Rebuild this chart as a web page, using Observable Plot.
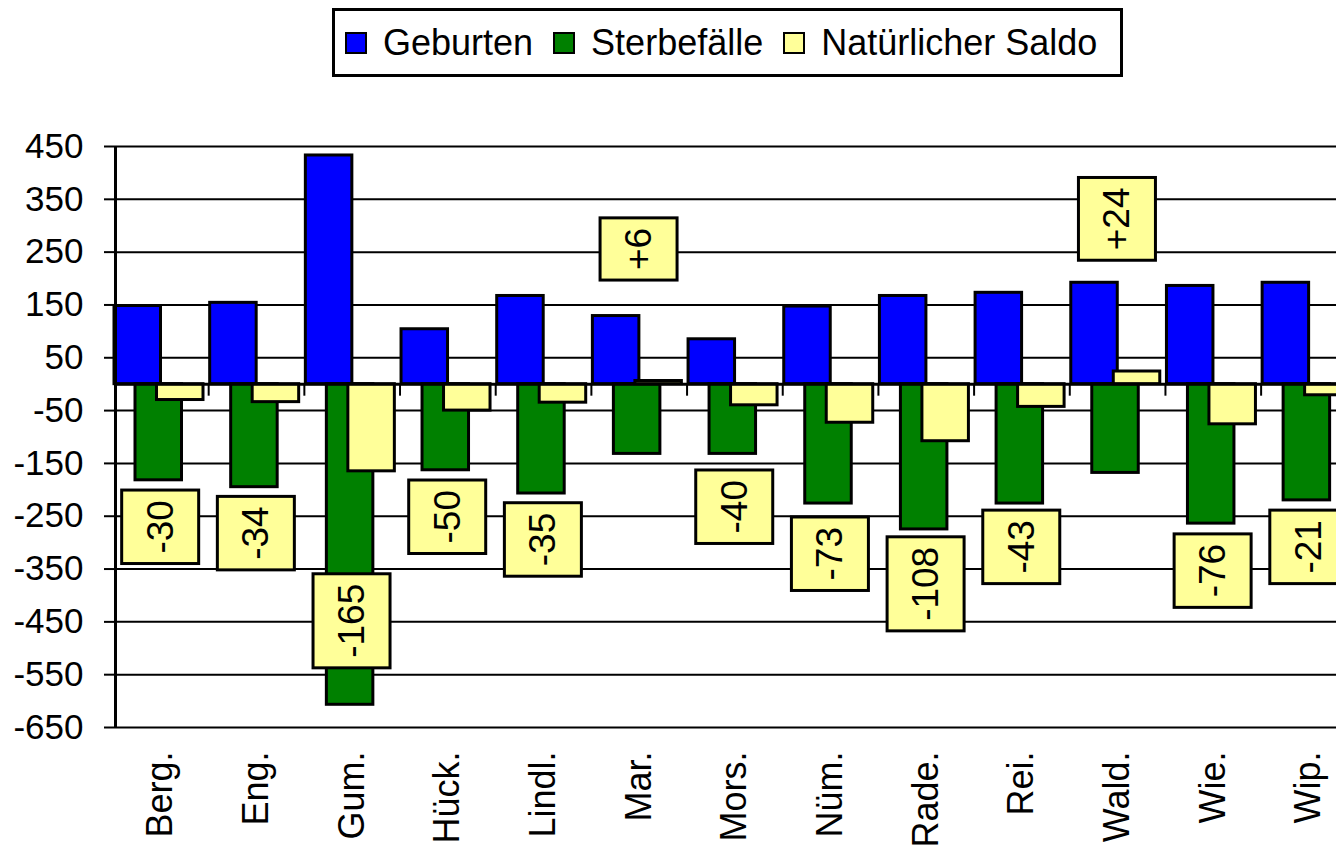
<!DOCTYPE html>
<html>
<head>
<meta charset="utf-8">
<script src="https://cdn.jsdelivr.net/npm/d3@7"></script>
<script src="https://cdn.jsdelivr.net/npm/@observablehq/plot@0.6"></script>
<style>
  html, body { margin: 0; padding: 0; background: #fff; }
  body { font-family: "Liberation Sans", Arial, sans-serif; color: #000; width: 1336px; height: 848px; overflow: hidden; }
  #top { height: 85px; position: relative; }
  #legend {
    position: absolute; left: 332px; top: 8px; box-sizing: border-box;
    width: 791px; height: 69px; border: 3px solid #000;
    display: flex; align-items: center; padding-left: 10px;
    font-size: 36px; line-height: 1;
  }
  .sw { width: 22px; height: 22px; box-sizing: border-box; border: 2px solid #000; margin-right: 16px; flex: none; }
  .lt { margin-right: 20px; white-space: nowrap; }
</style>
</head>
<body>
<div id="top"><div id="legend"></div></div>
<div id="chart"></div>
<script>
// ---- data ----
const categories = ["Berg.", "Eng.", "Gum.", "Hück.", "Lindl.", "Mar.", "Mors.", "Nüm.", "Rade.", "Rei.", "Wald.", "Wie.", "Wip."];
const geburten    = [148, 154, 433, 104, 167, 129, 85, 147, 167, 173, 192, 186, 192];
const sterbefaelle = [-182, -195, -607, -163, -207, -132, -132, -226, -275, -226, -168, -264, -220];
const saldo       = [-30, -34, -165, -50, -35, 6, -40, -73, -108, -43, 24, -76, -21];
// value at which each saldo label box sits (as placed in the original)
const labelAt     = [-270, -282, -448, -251, -294, 256, -232, -321, -378, -308, 313, -353, -308];
const yTicks = [-650, -550, -450, -350, -250, -150, -50, 50, 150, 250, 350, 450];
const seriesNames = ["Geburten", "Sterbefälle", "Natürlicher Saldo"];
const seriesColors = ["#0000FF", "#008000", "#FFFF99"];

// ---- legend (HTML, above the svg) ----
const legend = document.getElementById("legend");
seriesNames.forEach((name, i) => {
  const sw = document.createElement("span");
  sw.className = "sw";
  sw.style.background = seriesColors[i];
  const lt = document.createElement("span");
  lt.className = "lt";
  lt.textContent = name;
  legend.appendChild(sw);
  legend.appendChild(lt);
});

// ---- chart ----
const X0 = 112.5, X1 = 1356.3;            // band range (chart is cut at the right edge)
const bw = (X1 - X0) / categories.length; // band width in px
const rows = (vals) => categories.map((c, i) => ({cat: c, v: vals[i]}));
const labels = categories.map((c, i) => ({cat: c, at: labelAt[i], text: (saldo[i] > 0 ? "+" : "") + saldo[i]}));
const FONT = '"Liberation Sans", Arial, sans-serif';

const svg = Plot.plot({
  width: 1336,
  height: 763,
  marginTop: 61,
  marginBottom: 121,
  marginLeft: 115,
  marginRight: 0,
  style: {fontFamily: FONT, background: "#fff", color: "#000"},
  x: {type: "band", domain: categories, range: [X0, X1], padding: 0, round: false, label: null},
  y: {domain: [-650, 450], label: null},
  marks: [
    Plot.gridY(yTicks, {stroke: "#000", strokeOpacity: 1, strokeWidth: 2}),
    Plot.barY(rows(geburten), {x: "cat", y: "v", fill: seriesColors[0], stroke: "#000", strokeWidth: 3,
      insetLeft: 1.5, insetRight: bw - 48}),
    Plot.barY(rows(sterbefaelle), {x: "cat", y: "v", fill: seriesColors[1], stroke: "#000", strokeWidth: 3,
      insetLeft: 22.5, insetRight: bw - 69}),
    Plot.barY(rows(saldo), {x: "cat", y: "v", fill: seriesColors[2], stroke: "#000", strokeWidth: 3,
      insetLeft: 44, insetRight: bw - 90.5}),
    Plot.ruleY([0], {stroke: "#000", strokeWidth: 3}),
    Plot.ruleX(categories, {x: (d) => d, y1: 0, y2: 0, insetBottom: -12, dx: bw / 2, stroke: "#000", strokeWidth: 2}),
    Plot.ruleX([categories[0]], {x: (d) => d, dx: -bw / 2 + 2.5, stroke: "#000", strokeWidth: 3}),
    Plot.axisY(yTicks, {tickSize: 11, tickPadding: 21, fontSize: 35, tickFormat: (d) => String(d), strokeWidth: 2, label: null}),
    Plot.axisX({tickSize: 0, tickPadding: 24, tickRotate: -90, fontSize: 36, label: null}),
    Plot.text(labels, {x: "cat", y: "at", text: "text", rotate: -90, fontSize: 37, fill: "#000", className: "saldo-label"})
  ]
});
document.getElementById("chart").appendChild(svg);

// yellow boxes behind the saldo labels, sized from the rendered text
const NS = "http://www.w3.org/2000/svg";
const labelTexts = new Set(labels.map((d) => d.text));
let texts = Array.from(svg.querySelectorAll(".saldo-label text"));
if (!texts.length) {
  // fallback: the last text group of the svg is the label mark
  const groups = Array.from(svg.querySelectorAll("g")).filter((g) => {
    const ts = g.querySelectorAll(":scope > text");
    return ts.length === labels.length && Array.from(ts).every((t) => labelTexts.has(t.textContent));
  });
  if (groups.length) texts = Array.from(groups[groups.length - 1].querySelectorAll(":scope > text"));
}
texts.forEach((t) => {
  const b = t.getBBox();
  const cy = b.y + b.height / 2;
  const r = document.createElementNS(NS, "rect");
  r.setAttribute("x", b.x - 10);
  r.setAttribute("width", b.width + 20);
  r.setAttribute("y", cy - 38.5);
  r.setAttribute("height", 77);
  const tr = t.getAttribute("transform");
  if (tr) r.setAttribute("transform", tr);
  r.setAttribute("fill", seriesColors[2]);
  r.setAttribute("stroke", "#000");
  r.setAttribute("stroke-width", 3);
  t.parentNode.insertBefore(r, t);
});
</script>
</body>
</html>
